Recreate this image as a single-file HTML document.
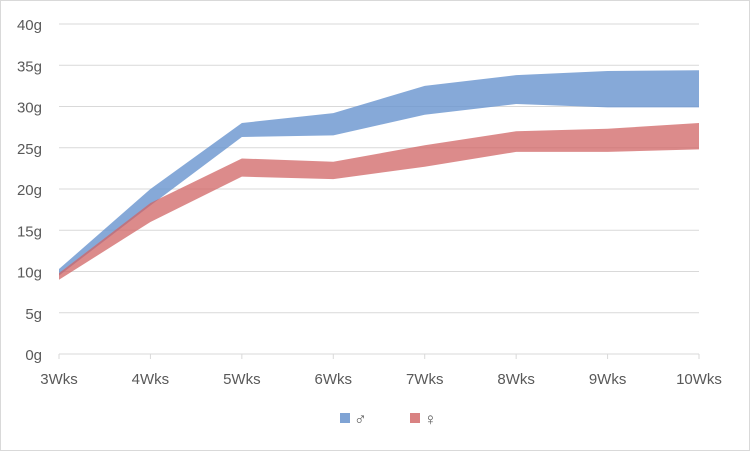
<!DOCTYPE html>
<html><head><meta charset="utf-8"><style>
body{margin:0;background:#fff}
svg{display:block;font-family:"Liberation Sans",sans-serif}
</style></head><body>
<svg id="chart" width="750" height="451">
<rect x="0.5" y="0.5" width="749" height="450" fill="#fff" stroke="#d9d9d9"/>
<g id="grid"></g><g id="bands"></g><g id="axes"></g>
<g>
<rect x="340" y="413" width="10" height="10" fill="#7fa3d4"/>
<text x="354" y="425" font-size="17" fill="#595959">♂</text>
<rect x="410" y="413" width="10" height="10" fill="#d98282"/>
<text x="424" y="425" font-size="17" fill="#595959">♀</text>
</g>
</svg>
<script>
const categories=["3Wks","4Wks","5Wks","6Wks","7Wks","8Wks","9Wks","10Wks"];
const maleHigh=[10.3,20,28,29.2,32.5,33.8,34.3,34.4];
const maleLow=[9.5,18,26.3,26.5,29,30.3,29.9,29.9];
const femaleHigh=[9.8,18.3,23.7,23.3,25.3,27,27.3,28];
const femaleLow=[9,16,21.5,21.2,22.7,24.5,24.5,24.8];
const yTicks=[0,5,10,15,20,25,30,35,40];
const NS="http://www.w3.org/2000/svg";
const x=i=>59+i*(640/(categories.length-1));
const y=v=>354-v*8.25;
function mk(tag,attrs,parent){const e=document.createElementNS(NS,tag);for(const k in attrs)e.setAttribute(k,attrs[k]);parent.appendChild(e);return e;}
const grid=document.getElementById('grid'),axes=document.getElementById('axes'),bands=document.getElementById('bands');
yTicks.forEach(t=>{
 if(t>0){const l=mk('line',{x1:59,x2:699,y1:y(t),y2:y(t),stroke:'#d9d9d9','stroke-width':1},grid);
 
 }
 const tx=mk('text',{x:42,y:y(t)+6,'text-anchor':'end','font-size':15,fill:'#595959'},axes);
 tx.textContent=t+'g';
 
 
});
const ax=mk('line',{x1:59,x2:699,y1:354,y2:354,stroke:'#d9d9d9'},axes);


categories.forEach((c,i)=>{
 const tk=mk('line',{x1:x(i),x2:x(i),y1:354,y2:359,stroke:'#d9d9d9'},axes);
 
 
 const tx=mk('text',{x:x(i),y:384,'text-anchor':'middle','font-size':15,fill:'#595959'},axes);
 tx.textContent=c;
 
 
});
function band(hi,lo,color,name){
 let d='M'+hi.map((v,i)=>x(i)+','+y(v)).join(' L');
 for(let i=lo.length-1;i>=0;i--)d+=' L'+x(i)+','+y(lo[i]);
 const p=mk('path',{d:d+'Z',fill:color},bands);
 
 
}
band(maleHigh,maleLow,'rgba(104,148,206,0.8)','male-band');
band(femaleHigh,femaleLow,'rgba(208,100,100,0.75)','female-band');
</script>
</body></html>
